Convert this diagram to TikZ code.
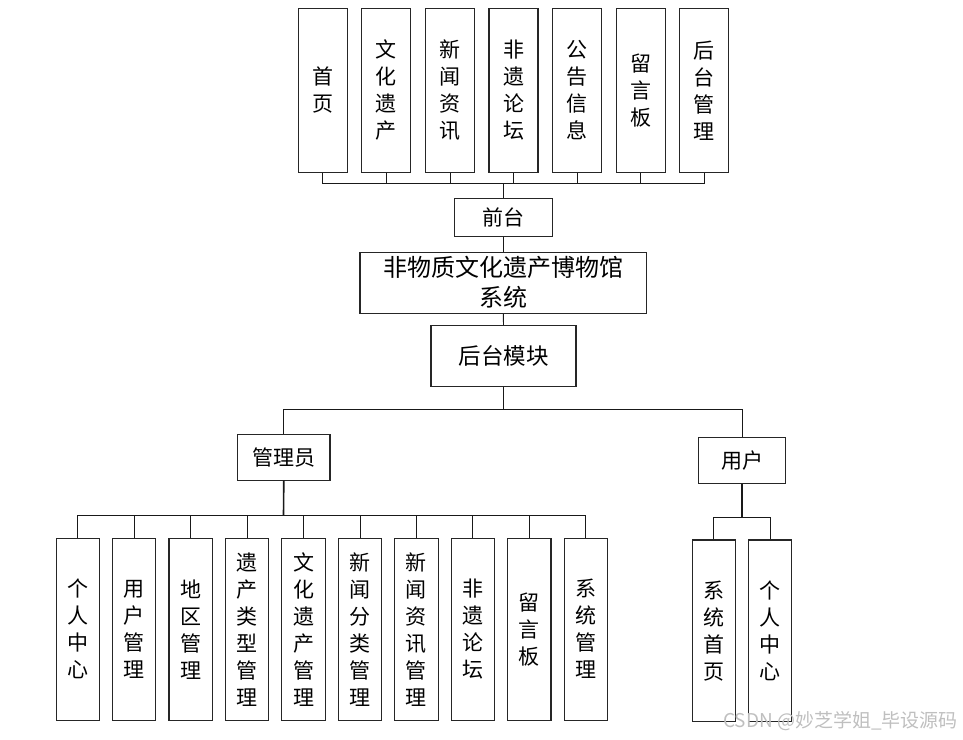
\documentclass[tikz,border=0pt]{standalone}
\usepackage{fontspec}
\newfontfamily\cjk{Noto Sans CJK SC}
\begin{document}
\begin{tikzpicture}[x=1pt,y=-1pt,
  box/.style={draw=black!85, line width=1.1pt, fill=white, inner sep=0pt, align=center,
    font=\cjk\fontsize{21}{27}\selectfont},
  topbox/.style={box, minimum width=49pt, minimum height=164pt},
  leafbox/.style={box, minimum width=43.3pt, minimum height=181.7pt},
  conn/.style={draw=black!90, line width=0.9pt},
  main/.style={draw=black!90, line width=1.6pt}]
\useasboundingbox (0,0) rectangle (963,739);
% top level boxes
\foreach \i/\t in {0/{首\\页},1/{文\\化\\遗\\产},2/{新\\闻\\资\\讯},3/{非\\遗\\论\\坛},4/{公\\告\\信\\息},5/{留\\言\\板},6/{后\\台\\管\\理}}{
  \node[topbox] (t\i) at ({322.8+63.58*\i},90.3) {\t};
}
\node[box, minimum width=98pt, minimum height=37.7pt] (fr) at (503.3,217.2) {前台};
\node[box, minimum width=286.7pt, minimum height=61.3pt, font=\cjk\fontsize{24}{30}\selectfont] (sys) at (503.3,282.7) {非物质文化遗产博物馆\\系统};
\node[box, minimum width=145pt, minimum height=60.3pt, font=\cjk\fontsize{22.5}{27}\selectfont] (bk) at (503.5,355.9) {后台模块};
\node[box, minimum width=92.3pt, minimum height=45.7pt] (adm) at (283.8,457.2) {管理员};
\node[box, minimum width=87.4pt, minimum height=46pt] (usr) at (742,460.3) {用户};
% admin leaves
\foreach \i/\t in {0/{个\\人\\中\\心},1/{用\\户\\管\\理},2/{地\\区\\管\\理},3/{遗\\产\\类\\型\\管\\理},4/{文\\化\\遗\\产\\管\\理},5/{新\\闻\\分\\类\\管\\理},6/{新\\闻\\资\\讯\\管\\理},7/{非\\遗\\论\\坛},8/{留\\言\\板},9/{系\\统\\管\\理}}{
  \node[leafbox] (a\i) at ({77.7+56.45*\i},629.2) {\t};
}
% user leaves
\node[leafbox] (u0) at (713.8,630.8) {系\\统\\首\\页};
\node[leafbox] (u1) at (770.2,630.8) {个\\人\\中\\心};
% bus coordinates
\coordinate (busT) at (503.3,183.3);
\coordinate (busM) at (503.5,409);
\coordinate (busA) at (283.5,515);
\coordinate (busU) at (742,517.7);
% connectors
\foreach \i in {0,...,6}{ \draw[conn] (t\i.south) |- (busT); }
\draw[main] (busT) -- (fr.north);
\draw[conn] (fr.south) -- (sys.north);
\draw[conn] (sys.south) -- (bk.north);
\draw[conn] (bk.south) -- (busM);
\draw[conn] (busM) -| (adm.north);
\draw[conn] (busM) -| (usr.north);
\draw[main] (adm.south) -- (busA);
\foreach \i in {0,...,9}{ \draw[conn] (a\i.north) |- (busA); }
\draw[main] (usr.south) -- (busU);
\draw[conn] (u0.north) |- (busU);
\draw[conn] (u1.north) |- (busU);
% watermark
\node[anchor=east, text=black!25, inner sep=0pt, font=\cjk\fontsize{19}{19}\selectfont] (wm) at (958,721) {CSDN @妙芝学姐\_毕设源码};
\end{tikzpicture}
\end{document}
